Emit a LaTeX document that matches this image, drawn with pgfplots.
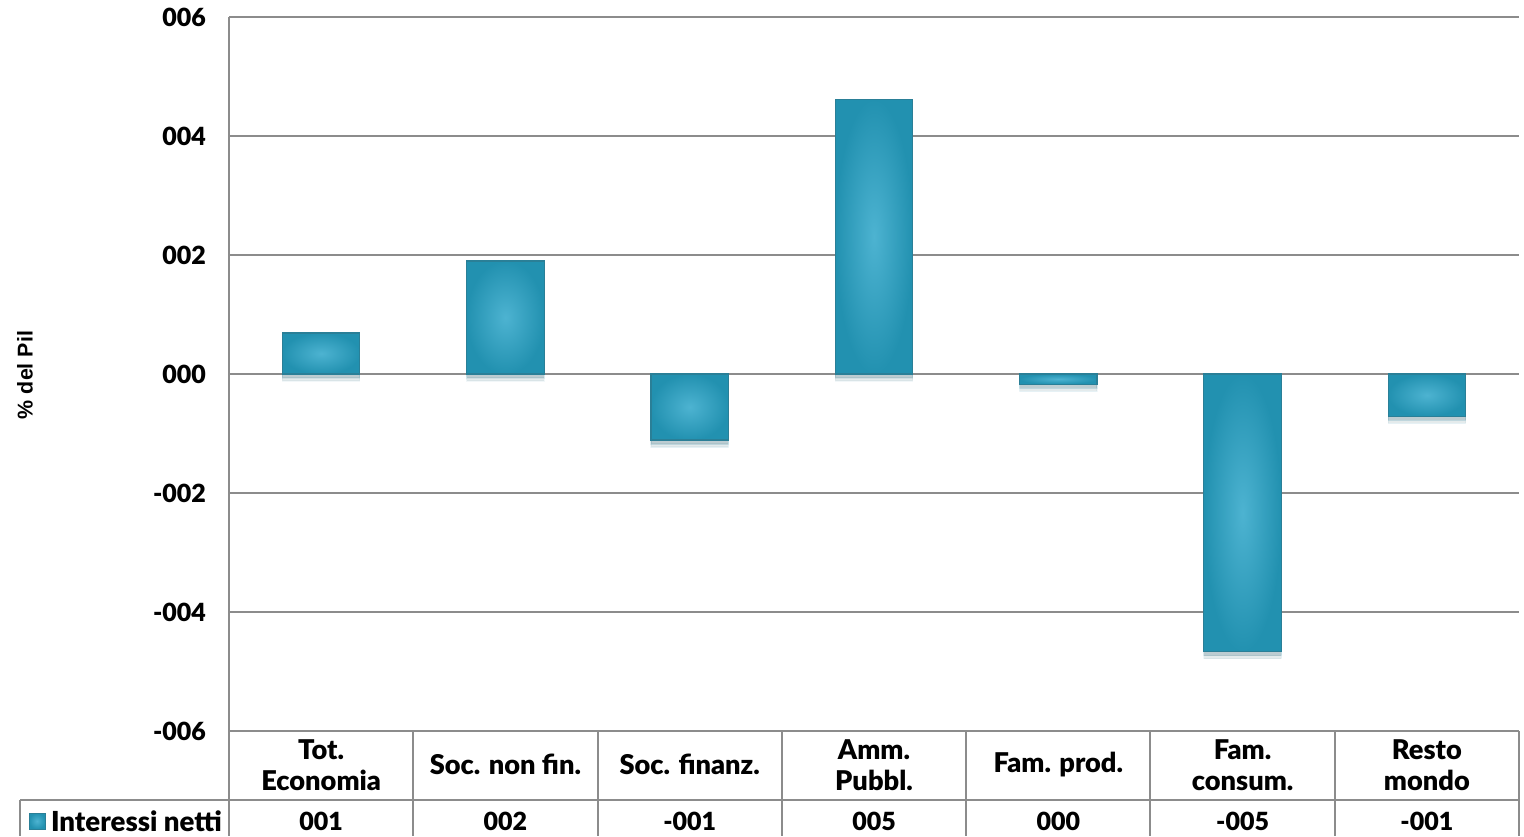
\documentclass[border=0pt]{standalone}
\usepackage{pgfplots}
\pgfplotsset{compat=1.18}
\usepackage{fontspec}
\setmainfont{Lato}[BoldFont={Lato Black}]
\newfontfamily\arialfont{Liberation Sans}
\usetikzlibrary{shadows}
\definecolor{gridgray}{HTML}{8C8C8C}
\definecolor{barlight}{HTML}{4DB3D1}
\definecolor{bardark}{HTML}{2291B0}
\definecolor{barborder}{HTML}{2A7F97}
\begin{document}
\begin{tikzpicture}[x=1pt,y=1pt,font=\bfseries]
\useasboundingbox (0,0) rectangle (762,418);
\begin{axis}[
  at={(114.5pt,52.5pt)}, anchor=south west,
  scale only axis, width=645pt, height=357pt,
  xmin=-0.5, xmax=6.5, ymin=-6, ymax=6,
  axis x line=none,
  axis y line*=left,
  y axis line style={draw=gridgray, line width=1pt},
  ytick={-6,-4,-2,0,2,4,6},
  yticklabels={-006,-004,-002,000,002,004,006},
  yticklabel style={font=\fontsize{12.5}{14}\selectfont\bfseries, xshift=-8pt},
  major tick length=0pt,
  ymajorgrids,
  grid style={draw=gridgray, line width=1pt},
  clip=false,
  barstyle/.style={ybar, bar width=0.42, bar shift=0pt,
    draw=barborder, line width=0.6pt,
    shading=radial, inner color=barlight, outer color=bardark,
    drop shadow={shadow xshift=0pt, shadow yshift=-2pt, opacity=0.10, fill=black},
    drop shadow={shadow xshift=0pt, shadow yshift=-3.5pt, opacity=0.06, fill=black}},
]
\addplot[barstyle] coordinates {(0,0.69)};
\addplot[barstyle] coordinates {(1,1.90)};
\addplot[barstyle] coordinates {(2,-1.11)};
\addplot[barstyle] coordinates {(3,4.62)};
\addplot[barstyle] coordinates {(4,-0.17)};
\addplot[barstyle] coordinates {(5,-4.67)};
\addplot[barstyle] coordinates {(6,-0.71)};
\end{axis}
% data table grid
\begin{scope}[draw=gridgray, line width=1pt]
  \draw (114.5,409.5) -- (114.5,0);
  \draw (114.5,52.5) -- (759.5,52.5);
  \draw (10,18) -- (759.5,18);
  \draw (10,18) -- (10,0);
  \foreach \k in {1,...,7} {\draw ({114.5+\k*645/7},52.5) -- ({114.5+\k*645/7},0);}
\end{scope}
% category names and values
\begin{scope}[every node/.style={align=center}]
  \foreach \name/\val [count=\i from 0] in {{Tot.\\Economia}/001, {Soc. non fin.}/002, {Soc. finanz.}/-001, {Amm.\\Pubbl.}/005, {Fam. prod.}/000, {Fam.\\consum.}/-005, {Resto\\mondo}/-001} {
    \node[font=\fontsize{13.6}{15.5}\selectfont\bfseries] at ({114.5+(\i+0.5)*645/7},35.6) {\name};
    \node[font=\fontsize{12.5}{15}\selectfont\bfseries] at ({114.5+(\i+0.5)*645/7},7.5) {\val};
  }
  \node[anchor=west, font=\fontsize{13.8}{15}\selectfont\bfseries] at (22,7.5) {Interessi netti};
\end{scope}
% legend key
\shade[inner color=barlight, outer color=bardark, draw=barborder, line width=0.5pt] (14.5,3.5) rectangle (22.5,11.5);
% y label
\node[rotate=90, font=\arialfont\fontsize{10.7}{12}\selectfont\bfseries] at (12.5,230.5) {\% del Pil};
\end{tikzpicture}
\end{document}
